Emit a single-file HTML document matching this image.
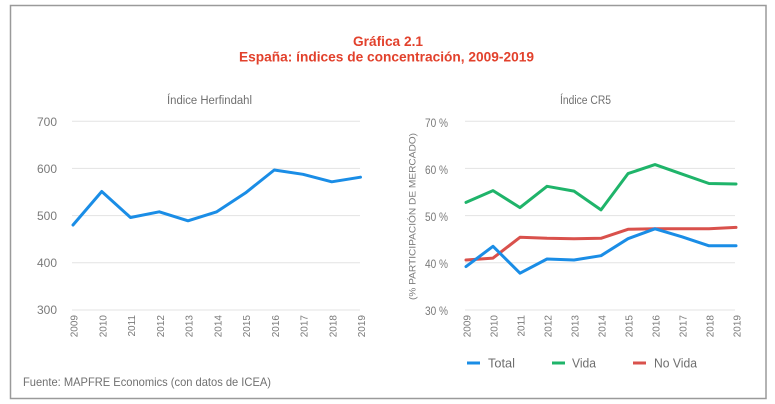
<!DOCTYPE html>
<html>
<head>
<meta charset="utf-8">
<style>
html,body{margin:0;padding:0;background:#fff;}
svg{display:block;}
text{font-family:"Liberation Sans",sans-serif;}
</style>
</head>
<body>
<svg width="775" height="404" viewBox="0 0 775 404" xmlns="http://www.w3.org/2000/svg">
<rect x="0" y="0" width="775" height="404" fill="#fff"/>
<rect x="10.5" y="5.5" width="755.5" height="393" fill="none" stroke="#9a9a9a" stroke-width="1.5"/>

<!-- Title -->
<text x="388" y="46" text-anchor="middle" font-size="14" font-weight="bold" fill="#e2412c" textLength="70" lengthAdjust="spacingAndGlyphs">Gráfica 2.1</text>
<text x="386.5" y="61.5" text-anchor="middle" font-size="14" font-weight="bold" fill="#e2412c" textLength="295" lengthAdjust="spacingAndGlyphs">España: índices de concentración, 2009-2019</text>

<!-- Left chart -->
<text x="209.5" y="104" text-anchor="middle" font-size="11.5" fill="#707070" textLength="85" lengthAdjust="spacingAndGlyphs">Índice Herfindahl</text>
<g stroke="#e3e3e3" stroke-width="1">
<line x1="72" y1="121.2" x2="360" y2="121.2"/>
<line x1="72" y1="168.4" x2="360" y2="168.4"/>
<line x1="72" y1="215.6" x2="360" y2="215.6"/>
<line x1="72" y1="262.8" x2="360" y2="262.8"/>
<line x1="72" y1="310" x2="360" y2="310"/>
</g>
<g font-size="12" fill="#7a7a7a" text-anchor="end">
<text x="57" y="126" textLength="20" lengthAdjust="spacingAndGlyphs">700</text>
<text x="57" y="173" textLength="20" lengthAdjust="spacingAndGlyphs">600</text>
<text x="57" y="220" textLength="20" lengthAdjust="spacingAndGlyphs">500</text>
<text x="57" y="267" textLength="20" lengthAdjust="spacingAndGlyphs">400</text>
<text x="57" y="314" textLength="20" lengthAdjust="spacingAndGlyphs">300</text>
</g>
<g font-size="10" fill="#7a7a7a" text-anchor="end">
<text transform="translate(77.6,315) rotate(-90)">2009</text>
<text transform="translate(106.3,315) rotate(-90)">2010</text>
<text transform="translate(135.1,315) rotate(-90)">2011</text>
<text transform="translate(163.8,315) rotate(-90)">2012</text>
<text transform="translate(192.6,315) rotate(-90)">2013</text>
<text transform="translate(221.3,315) rotate(-90)">2014</text>
<text transform="translate(250.1,315) rotate(-90)">2015</text>
<text transform="translate(278.8,315) rotate(-90)">2016</text>
<text transform="translate(307.6,315) rotate(-90)">2017</text>
<text transform="translate(336.3,315) rotate(-90)">2018</text>
<text transform="translate(365.1,315) rotate(-90)">2019</text>
</g>
<polyline fill="none" stroke="#1a8de6" stroke-width="3" stroke-linejoin="round" stroke-linecap="round"
points="73,225 101.75,191.5 130.5,217.5 159.25,211.8 188,220.8 216.75,211.8 245.5,192.9 274.25,170 303,174.3 331.75,181.8 360.5,177.2"/>

<!-- Right chart -->
<text x="585.5" y="104" text-anchor="middle" font-size="11.5" fill="#707070" textLength="51" lengthAdjust="spacingAndGlyphs">Índice CR5</text>
<g stroke="#e3e3e3" stroke-width="1">
<line x1="465" y1="121.2" x2="735" y2="121.2"/>
<line x1="465" y1="168.4" x2="735" y2="168.4"/>
<line x1="465" y1="215.6" x2="735" y2="215.6"/>
<line x1="465" y1="262.8" x2="735" y2="262.8"/>
<line x1="465" y1="310" x2="735" y2="310"/>
</g>
<g font-size="12" fill="#7a7a7a" text-anchor="end">
<text x="448" y="127" textLength="23" lengthAdjust="spacingAndGlyphs">70 %</text>
<text x="448" y="174" textLength="23" lengthAdjust="spacingAndGlyphs">60 %</text>
<text x="448" y="221" textLength="23" lengthAdjust="spacingAndGlyphs">50 %</text>
<text x="448" y="268" textLength="23" lengthAdjust="spacingAndGlyphs">40 %</text>
<text x="448" y="315" textLength="23" lengthAdjust="spacingAndGlyphs">30 %</text>
</g>
<text transform="translate(415.5,216.5) rotate(-90)" text-anchor="middle" font-size="9.5" fill="#7a7a7a" textLength="167" lengthAdjust="spacingAndGlyphs">(% PARTICIPACIÓN DE MERCADO)</text>
<g font-size="10" fill="#7a7a7a" text-anchor="end">
<text transform="translate(470.6,315) rotate(-90)">2009</text>
<text transform="translate(497.6,315) rotate(-90)">2010</text>
<text transform="translate(524.6,315) rotate(-90)">2011</text>
<text transform="translate(551.6,315) rotate(-90)">2012</text>
<text transform="translate(578.6,315) rotate(-90)">2013</text>
<text transform="translate(605.6,315) rotate(-90)">2014</text>
<text transform="translate(632.6,315) rotate(-90)">2015</text>
<text transform="translate(659.6,315) rotate(-90)">2016</text>
<text transform="translate(686.6,315) rotate(-90)">2017</text>
<text transform="translate(713.6,315) rotate(-90)">2018</text>
<text transform="translate(740.6,315) rotate(-90)">2019</text>
</g>
<!-- No Vida -->
<polyline fill="none" stroke="#d9514c" stroke-width="3" stroke-linejoin="round" stroke-linecap="round"
points="466,260 493,258.1 520,237.3 547,238.3 574,238.7 601,238.3 628,229.3 655,228.8 682,228.8 709,228.8 736,227.4"/>
<!-- Vida -->
<polyline fill="none" stroke="#1fb46a" stroke-width="3" stroke-linejoin="round" stroke-linecap="round"
points="466,202.4 493,190.6 520,207.6 547,186.3 574,191.1 601,209.9 628,173.6 655,164.6 682,174.1 709,183.5 736,184"/>
<!-- Total -->
<polyline fill="none" stroke="#1a8de6" stroke-width="3" stroke-linejoin="round" stroke-linecap="round"
points="466,266.6 493,246.3 520,273.2 547,259 574,260 601,255.7 628,238.7 655,228.8 682,236.8 709,245.8 736,245.8"/>

<!-- Legend -->
<line x1="467" y1="363" x2="480" y2="363" stroke="#1a8de6" stroke-width="3"/>
<text x="488" y="367.5" font-size="12.5" fill="#6e6e6e" textLength="27" lengthAdjust="spacingAndGlyphs">Total</text>
<line x1="552" y1="363" x2="565" y2="363" stroke="#1fb46a" stroke-width="3"/>
<text x="572" y="367.5" font-size="12.5" fill="#6e6e6e" textLength="24" lengthAdjust="spacingAndGlyphs">Vida</text>
<line x1="633" y1="363" x2="646" y2="363" stroke="#d9514c" stroke-width="3"/>
<text x="654" y="367.5" font-size="12.5" fill="#6e6e6e" textLength="43" lengthAdjust="spacingAndGlyphs">No Vida</text>

<!-- Footer -->
<text x="23" y="386" font-size="12" fill="#707070" textLength="248" lengthAdjust="spacingAndGlyphs">Fuente: MAPFRE Economics (con datos de ICEA)</text>
</svg>
</body>
</html>
